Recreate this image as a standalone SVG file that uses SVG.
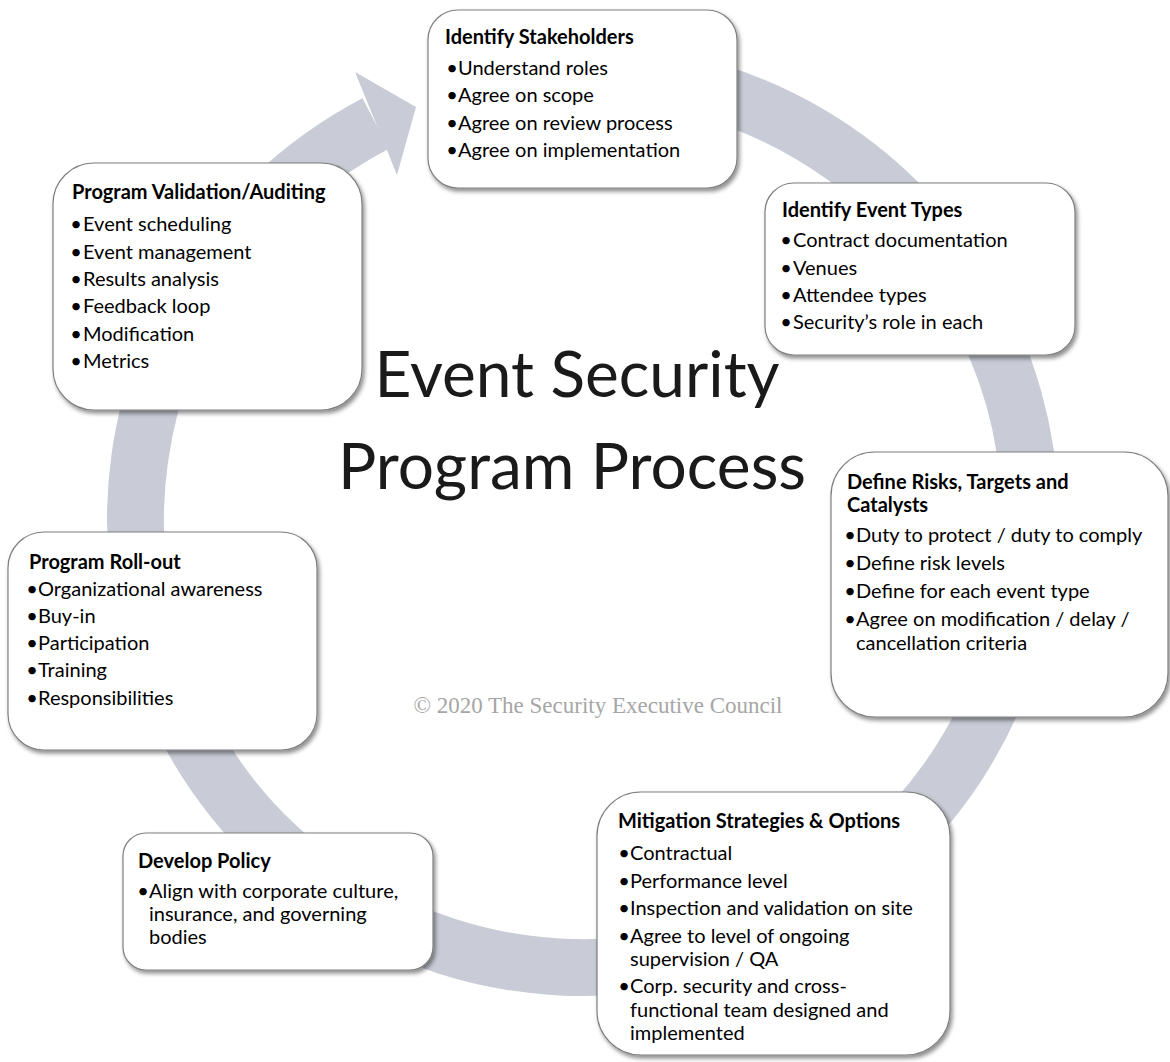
<svg xmlns="http://www.w3.org/2000/svg" width="1170" height="1062" viewBox="0 0 1170 1062">
<style>
.box{fill:#fff;stroke:#7f7f7f;stroke-width:1.2;filter:url(#sh)}
.t{font-family:Lato,"Open Sans",sans-serif;font-weight:700;font-size:20px;fill:#000}
.b{font-family:Lato,"Open Sans",sans-serif;font-size:20px;fill:#000}
.d{font-family:Lato,"Open Sans",sans-serif;font-size:20px;fill:#000;text-anchor:middle}
.big{font-family:Lato,"Open Sans",sans-serif;font-size:64px;fill:#1a1a1a;text-anchor:middle}
.cr{font-family:"Liberation Serif",serif;font-size:23px;fill:#a6a6a6;text-anchor:middle}
.ring{fill:none;stroke:#c9ccd6;stroke-width:57}
</style>
<defs>
<filter id="sh" x="-10%" y="-10%" width="125%" height="125%">
<feDropShadow dx="2" dy="3" stdDeviation="2.2" flood-color="#000" flood-opacity="0.45"/>
</filter>
</defs>
<rect width="1170" height="1062" fill="#fff"/>
<g id="connectors">
<path class="ring" d="M622,74.2 A447.5,447.5 0 1 1 375.7,123.4"/>
<polygon points="355,72 416,107 397,175" fill="#c9ccd6"/>
</g>
<g id="n1">
<rect class="box" x="428" y="10" width="309" height="178" rx="30"/>
<text class="t" x="445" y="44">Identify Stakeholders</text>
<text class="d" x="452" y="75">•</text><text class="b" x="458" y="75">Understand roles</text>
<text class="d" x="452" y="102">•</text><text class="b" x="458" y="102">Agree on scope</text>
<text class="d" x="452" y="130">•</text><text class="b" x="458" y="130">Agree on review process</text>
<text class="d" x="452" y="157">•</text><text class="b" x="458" y="157">Agree on implementation</text>
</g>
<g id="n2">
<rect class="box" x="765" y="183" width="310" height="172" rx="29"/>
<text class="t" x="782" y="217">Identify Event Types</text>
<text class="d" x="786" y="247">•</text><text class="b" x="793" y="247">Contract documentation</text>
<text class="d" x="786" y="275">•</text><text class="b" x="793" y="275">Venues</text>
<text class="d" x="786" y="302">•</text><text class="b" x="793" y="302">Attendee types</text>
<text class="d" x="786" y="329">•</text><text class="b" x="793" y="329">Security’s role in each</text>
</g>
<g id="n3">
<rect class="box" x="831" y="452" width="337" height="265" rx="44"/>
<text class="t" x="847" y="489">Define Risks, Targets and</text>
<text class="t" x="847" y="512">Catalysts</text>
<text class="d" x="850" y="542">•</text><text class="b" x="856" y="542">Duty to protect / duty to comply</text>
<text class="d" x="850" y="570">•</text><text class="b" x="856" y="570">Define risk levels</text>
<text class="d" x="850" y="598">•</text><text class="b" x="856" y="598">Define for each event type</text>
<text class="d" x="850" y="626">•</text><text class="b" x="856" y="626">Agree on modification / delay /</text>
<text class="b" x="856" y="650">cancellation criteria</text>
</g>
<g id="n4">
<rect class="box" x="597" y="792" width="353" height="263" rx="44"/>
<text class="t" x="618" y="828">Mitigation Strategies &amp; Options</text>
<text class="d" x="624" y="860">•</text><text class="b" x="630" y="860">Contractual</text>
<text class="d" x="624" y="888">•</text><text class="b" x="630" y="888">Performance level</text>
<text class="d" x="624" y="915">•</text><text class="b" x="630" y="915">Inspection and validation on site</text>
<text class="d" x="624" y="943">•</text><text class="b" x="630" y="943">Agree to level of ongoing</text>
<text class="b" x="630" y="966">supervision / QA</text>
<text class="d" x="624" y="993">•</text><text class="b" x="630" y="993">Corp. security and cross-</text>
<text class="b" x="630" y="1017">functional team designed and</text>
<text class="b" x="630" y="1040">implemented</text>
</g>
<g id="n5">
<rect class="box" x="123" y="833" width="310" height="137" rx="23"/>
<text class="t" x="138" y="868">Develop Policy</text>
<text class="d" x="143" y="898">•</text><text class="b" x="149" y="898">Align with corporate culture,</text>
<text class="b" x="149" y="921">insurance, and governing</text>
<text class="b" x="149" y="944">bodies</text>
</g>
<g id="n6">
<rect class="box" x="8" y="532" width="309" height="218" rx="36"/>
<text class="t" x="29" y="569">Program Roll-out</text>
<text class="d" x="32" y="596">•</text><text class="b" x="38" y="596">Organizational awareness</text>
<text class="d" x="32" y="623">•</text><text class="b" x="38" y="623">Buy-in</text>
<text class="d" x="32" y="650">•</text><text class="b" x="38" y="650">Participation</text>
<text class="d" x="32" y="677">•</text><text class="b" x="38" y="677">Training</text>
<text class="d" x="32" y="705">•</text><text class="b" x="38" y="705">Responsibilities</text>
</g>
<g id="n7">
<rect class="box" x="53" y="163" width="309" height="247" rx="41"/>
<text class="t" x="72" y="199">Program Validation/Auditing</text>
<text class="d" x="76" y="231">•</text><text class="b" x="83" y="231">Event scheduling</text>
<text class="d" x="76" y="259">•</text><text class="b" x="83" y="259">Event management</text>
<text class="d" x="76" y="286">•</text><text class="b" x="83" y="286">Results analysis</text>
<text class="d" x="76" y="313">•</text><text class="b" x="83" y="313">Feedback loop</text>
<text class="d" x="76" y="341">•</text><text class="b" x="83" y="341">Modification</text>
<text class="d" x="76" y="368">•</text><text class="b" x="83" y="368">Metrics</text>
</g>
<g id="title">
<text class="big" x="577" y="397">Event Security</text>
<text class="big" x="572" y="489">Program Process</text>
<text class="cr" x="598" y="713">© 2020 The Security Executive Council</text>
</g>
</svg>
